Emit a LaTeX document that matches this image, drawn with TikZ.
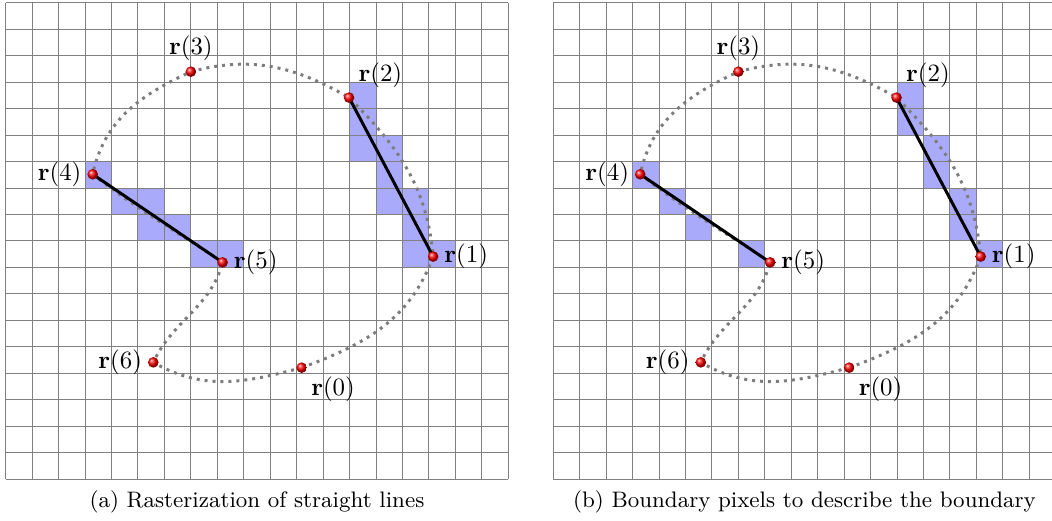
\documentclass[tikz,border=0pt]{standalone}
\definecolor{pixfill}{RGB}{170,170,250}
\definecolor{gridcol}{RGB}{128,128,128}
\definecolor{dotcol}{RGB}{125,125,125}

\begin{document}
\begin{tikzpicture}[
  x=0.3735cm, y=0.3735cm,
  gridline/.style={draw=gridcol, line width=0.4pt, step=0.3735cm},
  pixel/.style={fill=pixfill},
  boundary/.style={draw=dotcol, line width=1.2pt, dash pattern=on 1.2pt off 2pt},
  seg/.style={draw=black, line width=1.2pt},
  ball/.style={circle, inner sep=0pt, minimum size=1.5mm, ball color=red},
  lab/.style={inner sep=2pt},
]
\useasboundingbox (-0.2155,-1.55) rectangle (39.558,18.11);
\clip (-0.2155,-1.55) rectangle (39.558,18.11);

% ---- pixels hit by the two straight lines ----
\foreach \c/\r in {3/11, 4/10, 5/10, 5/9, 6/9, 7/8, 8/8,
                   13/14, 13/13, 13/12, 14/12, 14/11, 14/10,
                   15/10, 15/9, 15/8, 16/8}
  \fill[pixel] (\c,\r) rectangle +(1,1);
\foreach \c/\r in {3/11, 4/10, 5/9, 7/8,
                   13/14, 13/13, 14/12, 14/11, 15/10, 15/9, 16/8}
  \fill[pixel] (20.7+\c,\r) rectangle +(1,1);

% ---- grid, boundary curve and samples, once per panel ----
\foreach \p/\dx in {a/0, b/20.7} {
  \begin{scope}[shift={(\dx,0)}]
    \draw[gridline] (0,0) grid (19,18);
    \foreach \i/\x/\y in {0/11.19/4.21, 1/16.16/8.41, 2/12.98/14.42,
                          3/7.0/15.4, 4/3.29/11.52, 5/8.2/8.19, 6/5.58/4.41}
      \coordinate (\p\i) at (\x,\y);
    \draw[boundary] (\p0) to[out=20,in=250] (\p1) to[out=95,in=315] (\p2)
      to[out=150,in=15] (\p3) to[out=205,in=78] (\p4)
      to[out=322,in=146] (\p5) to[out=255,in=65] (\p6)
      to[out=330,in=195] (\p0);
    \draw[seg] (\p4) -- (\p5);
    \draw[seg] (\p2) -- (\p1);
    \foreach \i/\pos in {0/below right, 1/right, 2/above right, 3/above,
                         4/left, 5/right, 6/left}
      \node[ball, label={[lab]\pos:$\mathbf{r}(\i)$}] (\p\i ball) at (\p\i) {};
  \end{scope}
}

% ---- captions ----
\node (capa) at (9.5,-0.86) {\small (a) Rasterization of straight lines};
\node (capb) at (30.2,-0.86) {\small (b) Boundary pixels to describe the boundary};

\end{tikzpicture}
\end{document}
